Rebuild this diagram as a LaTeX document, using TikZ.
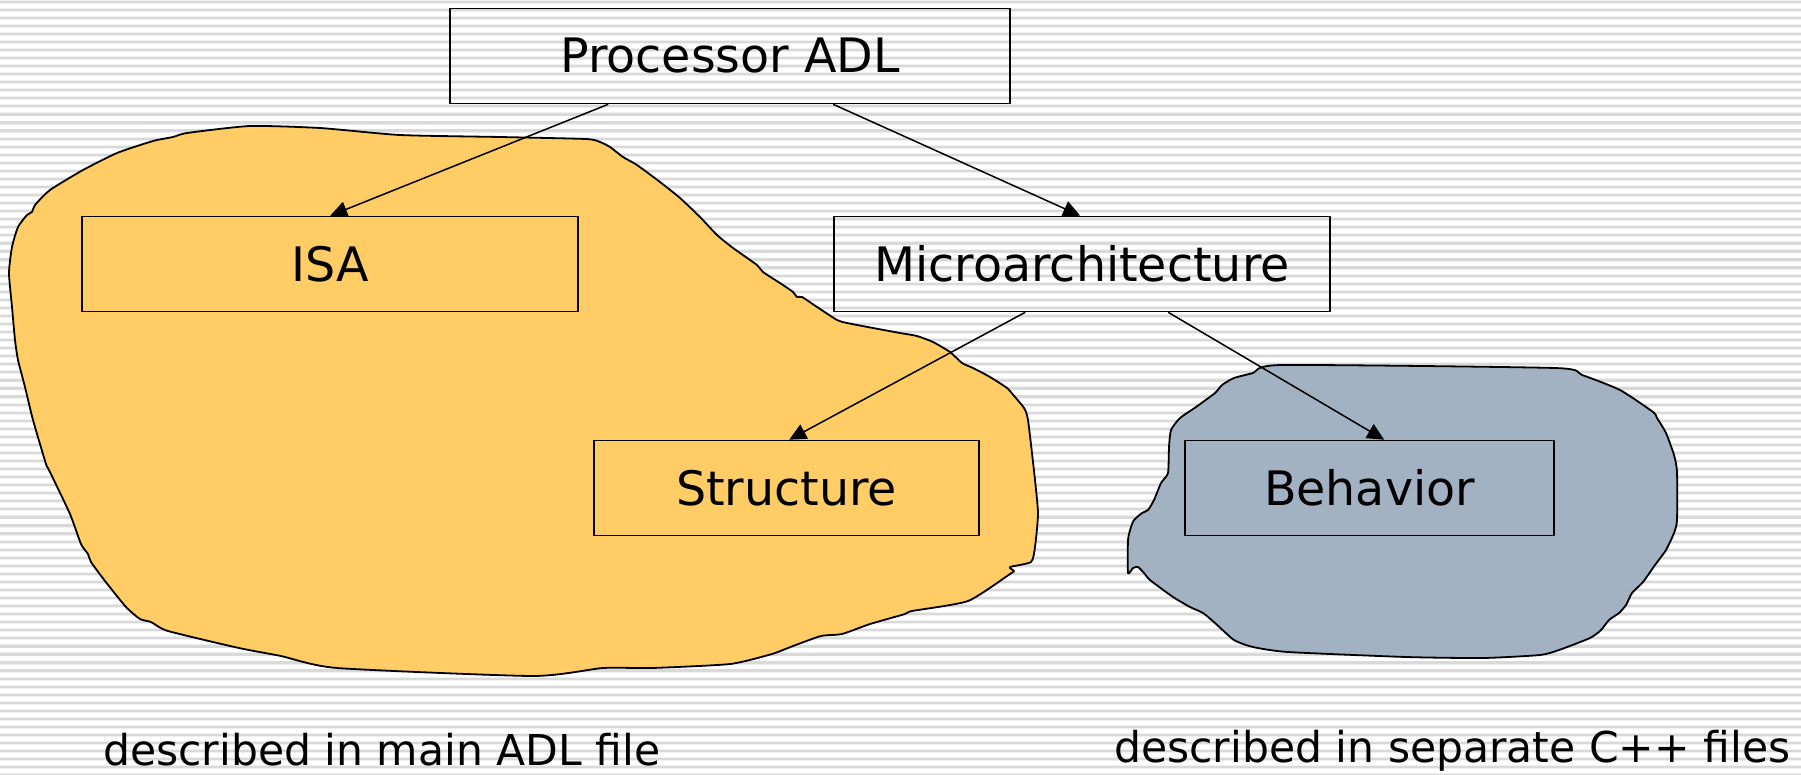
\documentclass[tikz,border=0pt]{standalone}
\usepackage{fontspec}
\setmainfont{DejaVu Sans}
\usetikzlibrary{arrows.meta}
\definecolor{bloborange}{HTML}{FFCC66}
\definecolor{blobgrey}{HTML}{A2B2C2}
\tikzset{
  stripe/.style={line width=2.2pt, color=gray!30},
  stripehalo/.style={line width=4pt, color=gray!12},
  blobline/.style={line width=1.8pt, line join=round},
  labelbox/.style={draw, line width=1.6pt, inner sep=0pt, minimum height=95pt,
    font=\fontsize{47.5}{57}\selectfont},
  arr/.style={line width=1.5pt, -{Triangle[length=17pt,width=16pt]}},
  caption/.style={inner sep=0pt, font=\fontsize{42.5}{50}\selectfont}
}
\begin{document}
\begin{tikzpicture}[x=1pt,y=-1pt]
\useasboundingbox (0,0) rectangle (1801,774);
\fill[white] (0,0) rectangle (1801,774);
% striped background
\foreach \i in {0,...,96}{
  \pgfmathsetmacro{\yy}{1.6+8.06*\i}
  \draw[stripehalo] (0,\yy) -- (1801,\yy);
  \draw[stripe] (0,\yy) -- (1801,\yy);
}
% orange blob
\draw[blobline, fill=bloborange] plot[smooth cycle, tension=0.35] coordinates {
(250,126) (320,128) (400,135) (500,137) (586,139) (600,142) (610,147) (623,157)
(637,165) (660,182) (680,198) (700,217) (717,235) (733,248) (757,265) (763,272)
(783,285) (793,292) (797,297) (802,297) (817,307) (837,320) (847,323) (873,328)
(900,333) (917,336) (933,342) (950,352) (962,363) (973,368) (990,377) (1007,388)
(1015,397) (1024,408) (1028,420) (1035,480) (1038,514) (1035,547) (1031,562)
(1010,567) (1014,571) (1010,574) (968,601) (912,611) (905,614) (870,624)
(842,634) (821,636) (793,646) (772,654) (730,664) (652,668) (603,668) (533,676)
(337,668) (281,656) (239,648) (168,631) (151,622) (140,619) (126,607) (105,581)
(91,562) (88,554) (81,544) (70,514) (49,470) (46,464) (33,420) (25,387) (18,360)
(15,340) (12,307) (9,273) (12,247) (18,227) (27,215) (32,212) (35,205) (50,190)
(83,170) (117,153) (153,141) (173,137) (187,133)};
% grey blob
\draw[blobline, fill=blobgrey] plot[smooth cycle, tension=0.35] coordinates {
(1282,365) (1555,368) (1582,375) (1620,390) (1653,412) (1657,418) (1666,433)
(1674,455) (1677,472) (1677,520) (1674,533) (1666,550) (1655,565) (1643,582)
(1632,593) (1626,605) (1619,613) (1609,620) (1601,630) (1590,638) (1559,650)
(1540,655) (1483,658) (1406,657) (1288,652) (1253,647) (1234,640) (1215,623)
(1203,613) (1190,607) (1173,597) (1150,580) (1144,573) (1138,567) (1133,568)
(1128,573) (1128,540) (1131,527) (1134,520) (1142,513) (1148,510) (1154,500)
(1161,483) (1168,473) (1169,447) (1171,430) (1180,418) (1196,407) (1215,393)
(1222,385) (1234,378) (1253,373)};
% boxes
\node[labelbox, minimum width=560pt] (proc) at (730,56) {Processor ADL};
\node[labelbox, minimum width=496pt] (isa) at (330,264) {ISA};
\node[labelbox, minimum width=496pt] (micro) at (1082,264) {Microarchitecture};
\node[labelbox, minimum width=385pt] (struct) at (786.5,488) {Structure};
\node[labelbox, minimum width=369pt] (behav) at (1369.5,488) {Behavior};
% connectors
\draw[arr] ([xshift=159pt]proc.south west) -- ([xshift=249pt]isa.north west);
\draw[arr] ([xshift=384pt]proc.south west) -- ([xshift=247pt]micro.north west);
\draw[arr] ([xshift=192pt]micro.south west) -- ([xshift=196pt]struct.north west);
\draw[arr] ([xshift=335pt]micro.south west) -- ([xshift=200pt]behav.north west);
% captions
\node[caption, anchor=base west] (capl) at (103,765) {described in main ADL file};
\node[caption, anchor=base west] (capr) at (1114,762) {described in separate C++ files};
\end{tikzpicture}
\end{document}
